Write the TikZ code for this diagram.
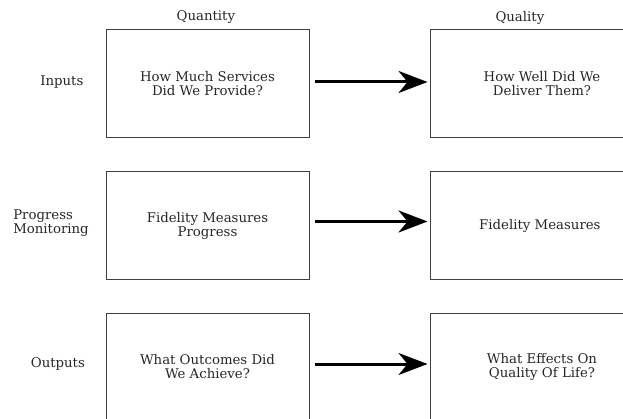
\documentclass[tikz,border=0pt]{standalone}
\usepackage{fontspec}
\setmainfont{DejaVu Serif}
\usetikzlibrary{arrows.meta}

\begin{document}
\begin{tikzpicture}[x = 1pt, y = -1pt,
    every node/.style = { align = center, text = black!85,
      font = \fontsize{13.3}{14}\selectfont },
    box/.style = { draw = black!75, line width = 1pt, inner sep = 0pt },
    left box/.style = { box, minimum width = 203pt, minimum height = 108pt },
    right box/.style = { box, minimum width = 224pt, minimum height = 108pt },
    flow/.style = { line width = 3pt, -{Stealth[length = 29pt, width = 22pt, inset = 9pt]},
      shorten < = 5pt, shorten > = 2pt }]
  \useasboundingbox (0,0) rectangle (623,419);

  % column heads
  \node (quantity) at (208,17) { Quantity };
  \node (quality) at (522,18) { Quality };

  % row labels
  \node (inputs) at (64,82) { Inputs };
  \node (progress) [align = left] at (51,223) { Progress \\ Monitoring };
  \node (outputs) at (60,364) { Outputs };

  % boxes
  \node (qn1) [left box] at (207.5,84) { How Much Services \\ Did We Provide? };
  \node (ql1) [right box] at (542,84) { How Well Did We \\ Deliver Them? };
  \node (qn2) [left box] at (207.5,225.5) { Fidelity Measures \\ Progress };
  \node (ql2) [right box] at (542,225.5) { Fidelity Measures };
  \node (qn3) [left box] at (207.5,367) { What Outcomes Did \\ We Achieve? };
  \node (ql3) [right box] at (542,367) { What Effects On \\ Quality Of Life? };

  \draw [flow] ([yshift = 2pt]qn1.east) -- ([yshift = 2pt]qn1.east -| ql1.west);
  \draw [flow] ([yshift = 4pt]qn2.east) -- ([yshift = 4pt]qn2.east -| ql2.west);
  \draw [flow] ([yshift = 3pt]qn3.east) -- ([yshift = 3pt]qn3.east -| ql3.west);
\end{tikzpicture}
\end{document}
